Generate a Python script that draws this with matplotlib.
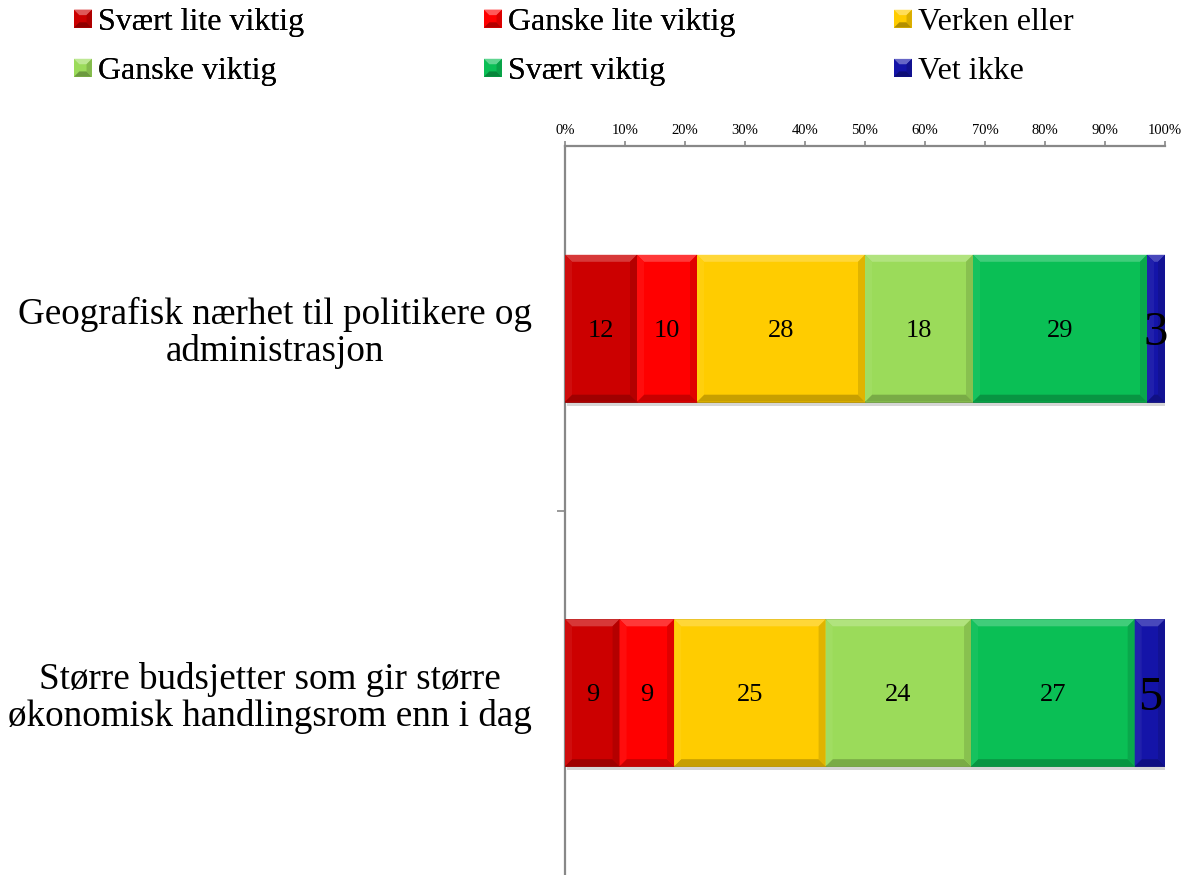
import matplotlib
matplotlib.use("Agg")
import matplotlib.pyplot as plt
import numpy as np
from matplotlib.patches import Rectangle, Polygon
from matplotlib.legend_handler import HandlerBase
from matplotlib.container import BarContainer
from matplotlib.colors import to_rgb

plt.rcParams['font.family'] = ['Liberation Serif', 'DejaVu Serif']

# ---------------- data ----------------
categories = ["Geografisk nærhet til politikere og\nadministrasjon",
              "Større budsjetter som gir større\nøkonomisk handlingsrom enn i dag"]
series_names = ["Svært lite viktig", "Ganske lite viktig", "Verken eller",
                "Ganske viktig", "Svært viktig", "Vet ikke"]
svart_lite_viktig = [12, 9]
ganske_lite_viktig = [10, 9]
verken_eller = [28, 25]
ganske_viktig = [18, 24]
svart_viktig = [29, 27]
vet_ikke = [3, 5]
tick_values = [0, 10, 20, 30, 40, 50, 60, 70, 80, 90, 100]
tick_labels = [f"{v}%" for v in tick_values]

series = [svart_lite_viktig, ganske_lite_viktig, verken_eller,
          ganske_viktig, svart_viktig, vet_ikke]
colors = ['#CC0000', '#FF0000', '#FFCC00', '#9BDB5A', '#0ABF55', '#1414A8']
label_sizes = [19, 19, 19, 19, 19, 35]

# ---------------- figure ----------------
W, H, DPI = 1184, 875, 100
fig = plt.figure(figsize=(W / DPI, H / DPI), dpi=DPI)
ax_left, ax_right, ax_top = 565 / W, 1165 / W, 1 - 146 / H
ax = fig.add_axes([ax_left, 0.0, ax_right - ax_left, ax_top])

vals = np.array(series, dtype=float)
totals = vals.sum(axis=0)
pct = vals / totals * 100.0
ypos = np.arange(len(categories))
bar_h = 0.403

ax.set_xlim(0, 100)
ax.set_ylim(1.5, -0.5)

# pixel -> data conversions
ax_w_px = (ax_right - ax_left) * W
ax_h_px = ax_top * H
px_x = 100.0 / ax_w_px
px_y = 2.0 / ax_h_px


def shade(c, f):
    r = np.array(to_rgb(c))
    if f >= 0:
        return tuple(r + (1 - r) * f)
    return tuple(r * (1 + f))


left = np.zeros(len(categories))
for i, (p, raw) in enumerate(zip(pct, vals)):
    bars = ax.barh(ypos, p, left=left, height=bar_h, color=colors[i],
                   edgecolor=shade(colors[i], -0.3), linewidth=0.6, zorder=3,
                   label=series_names[i])
    for rect, v in zip(bars, raw):
        x0 = rect.get_x()
        x1 = x0 + rect.get_width()
        top = rect.get_y()
        bot = top + rect.get_height()
        dx = 7 * px_x
        dy = 7 * px_y
        # drop shadow
        ax.add_patch(Rectangle((x0 + 2 * px_x, top + 4 * px_y), x1 - x0, bot - top,
                               facecolor='0.55', alpha=0.35, edgecolor='none', zorder=2))
        # bevel
        ax.add_patch(Polygon([(x0, top), (x1, top), (x1 - dx, top + dy), (x0 + dx, top + dy)],
                             facecolor=shade(colors[i], 0.22), edgecolor='none', zorder=4))
        ax.add_patch(Polygon([(x0, bot), (x1, bot), (x1 - dx, bot - dy), (x0 + dx, bot - dy)],
                             facecolor=shade(colors[i], -0.22), edgecolor='none', zorder=4))
        ax.add_patch(Polygon([(x1, top), (x1, bot), (x1 - dx, bot - dy), (x1 - dx, top + dy)],
                             facecolor=shade(colors[i], -0.12), edgecolor='none', zorder=4))
        ax.add_patch(Polygon([(x0, top), (x0, bot), (x0 + dx, bot - dy), (x0 + dx, top + dy)],
                             facecolor=shade(colors[i], 0.05), edgecolor='none', zorder=4))
        ax.text((x0 + x1) / 2, (top + bot) / 2, f"{int(v)}", ha='center',
                va='center_baseline', fontsize=label_sizes[i], color='black', zorder=6)
    left = left + p

# axes styling
ax.xaxis.tick_top()
ax.set_xticks(tick_values)
ax.set_xticklabels(tick_labels, fontsize=10.5)
ax.tick_params(axis='x', direction='out', length=3.5, width=1.2, color='#888888', pad=3)
ax.set_yticks(ypos)
ax.set_yticklabels(categories, fontsize=26.75, linespacing=1.07, multialignment='center')
ax.tick_params(axis='y', which='major', length=0, pad=24)
ax.set_yticks([0.5], minor=True)
ax.tick_params(axis='y', which='minor', direction='out', length=6, width=1.2, color='#888888')
for s in ['bottom', 'right']:
    ax.spines[s].set_visible(False)
for s in ['top', 'left']:
    ax.spines[s].set_color('#888888')
    ax.spines[s].set_linewidth(1.6)
ax.patch.set_alpha(0)


# legend with bevelled square markers
class BevelHandler(HandlerBase):
    def create_artists(self, legend, orig_handle, xdescent, ydescent, width, height,
                       fontsize, trans):
        c = orig_handle.patches[0].get_facecolor()[:3]
        s = min(width, height)
        x0 = -xdescent + (width - s) / 2
        y0 = -ydescent + (height - s) / 2
        b = s * 0.3
        arts = [Rectangle((x0, y0), s, s, facecolor=c, edgecolor='none')]
        arts.append(Polygon([(x0, y0 + s), (x0 + s, y0 + s), (x0 + s - b, y0 + s - b), (x0 + b, y0 + s - b)],
                            facecolor=shade(c, 0.35), edgecolor='none'))
        arts.append(Polygon([(x0, y0), (x0 + s, y0), (x0 + s - b, y0 + b), (x0 + b, y0 + b)],
                            facecolor=shade(c, -0.3), edgecolor='none'))
        arts.append(Polygon([(x0 + s, y0), (x0 + s, y0 + s), (x0 + s - b, y0 + s - b), (x0 + s - b, y0 + b)],
                            facecolor=shade(c, -0.15), edgecolor='none'))
        for a in arts:
            a.set_transform(trans)
        return arts


handles, labels = ax.get_legend_handles_labels()
col_x = [74 / W, 484 / W, 894 / W]
for k in range(3):
    hs = [handles[k], handles[k + 3]]
    ls = [labels[k], labels[k + 3]]
    leg = fig.legend(hs, ls, loc='upper left', bbox_to_anchor=(col_x[k], 1.0 - 8 / H),
                     frameon=False, fontsize=23, handlelength=0.56, handleheight=0.56,
                     handletextpad=0.2, labelspacing=0.63, borderpad=0, borderaxespad=0,
                     handler_map={BarContainer: BevelHandler()})
    if k < 2:
        fig.add_artist(leg)

fig.savefig("out.png", dpi=DPI)
